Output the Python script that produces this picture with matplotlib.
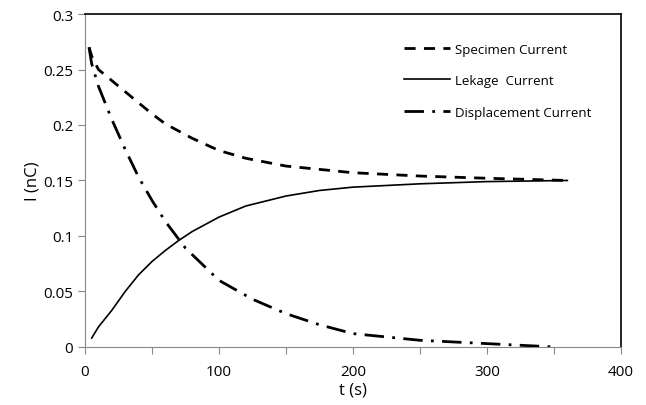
import matplotlib
matplotlib.use("Agg")
import matplotlib.pyplot as plt
from matplotlib.ticker import MultipleLocator

t_spec = [3, 5, 10, 20, 30, 40, 50, 60, 80, 100, 120, 150, 200, 250, 300, 360]
i_spec = [0.27, 0.262, 0.25, 0.24, 0.23, 0.22, 0.21, 0.201, 0.188, 0.177, 0.17, 0.163, 0.157, 0.154, 0.152, 0.15]

t_leak = [5, 10, 20, 30, 40, 50, 60, 70, 80, 100, 120, 150, 175, 200, 250, 300, 360]
i_leak = [0.008, 0.018, 0.033, 0.05, 0.065, 0.077, 0.087, 0.096, 0.104, 0.117, 0.127, 0.136, 0.141, 0.144, 0.147, 0.149, 0.15]

t_disp = [3, 5, 10, 20, 30, 40, 50, 60, 75, 100, 125, 150, 175, 200, 250, 300, 350]
i_disp = [0.27, 0.255, 0.235, 0.205, 0.178, 0.153, 0.132, 0.113, 0.089, 0.06, 0.043, 0.03, 0.02, 0.012, 0.006, 0.003, 0.0]

plt.rcParams['font.family'] = ['Open Sans', 'DejaVu Sans']

fig = plt.figure(figsize=(6.46, 4.06), dpi=100)
ax = fig.add_axes([0.1316, 0.143, 0.8296, 0.820])

ax.plot(t_spec, i_spec, color='black', lw=2, dashes=(4, 3), label='Specimen Current')
ax.plot(t_leak, i_leak, color='black', lw=1.2, label='Lekage  Current')
ax.plot(t_disp, i_disp, color='black', lw=2, dashes=(7, 3, 1, 3), label='Displacement Current')

ax.set_xlim(0, 400)
ax.set_ylim(0, 0.3)
ax.xaxis.set_major_locator(MultipleLocator(100))
ax.xaxis.set_minor_locator(MultipleLocator(50))
ax.set_yticks([0, 0.05, 0.1, 0.15, 0.2, 0.25, 0.3])
ax.set_yticklabels(['0', '0.05', '0.1', '0.15', '0.2', '0.25', '0.3'])
ax.tick_params(axis='both', which='both', direction='out', length=5, width=0.8, color='#888888', labelsize=11)
ax.tick_params(axis='x', which='major', pad=7)
for s in ['left', 'bottom']:
    ax.spines[s].set_color('#888888')
for s in ['top', 'right']:
    ax.spines[s].set_color('black')
    ax.spines[s].set_linewidth(1.2)

ax.set_xlabel('t (s)', fontsize=12, labelpad=2)
ax.set_ylabel('I (nC)', fontsize=12, labelpad=2)

leg = ax.legend(loc='upper right', bbox_to_anchor=(0.962, 0.942), frameon=False, fontsize=9.5,
                handlelength=3.5, labelspacing=1.4, handletextpad=0.4, borderpad=0.2)

fig.savefig('out.png', dpi=100)
